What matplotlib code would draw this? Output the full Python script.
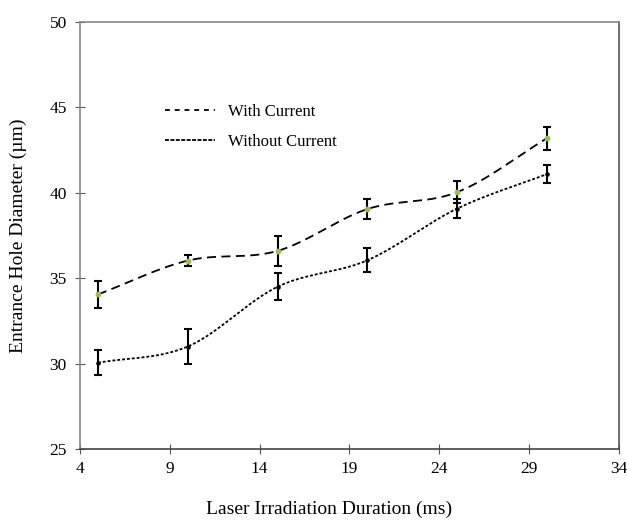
import numpy as np
import matplotlib.pyplot as plt
from matplotlib.lines import Line2D

plt.rcParams['font.family'] = ['Liberation Serif', 'DejaVu Serif']

duration = [5, 10, 15, 20, 25, 30]
with_current = [34.05, 36.03, 36.6, 39.05, 40.04, 43.2]
with_err = [0.8, 0.31, 0.9, 0.6, 0.66, 0.68]
without_current = [30.05, 31.0, 34.5, 36.05, 39.08, 41.1]
without_err = [0.72, 1.0, 0.8, 0.7, 0.55, 0.5]

x_ticks = [4, 9, 14, 19, 24, 29, 34]
y_ticks = [25, 30, 35, 40, 45, 50]


def smooth(xs, ys, steps=30):
    # excel-like smoothed line (catmull-rom through the points)
    xs = np.asarray(xs, float)
    ys = np.asarray(ys, float)
    px = np.concatenate([[2 * xs[0] - xs[1]], xs, [2 * xs[-1] - xs[-2]]])
    py = np.concatenate([[2 * ys[0] - ys[1]], ys, [2 * ys[-1] - ys[-2]]])
    outx, outy = [], []
    t = np.linspace(0, 1, steps)
    for i in range(1, len(px) - 2):
        for p, out in ((px, outx), (py, outy)):
            p0, p1, p2, p3 = p[i - 1], p[i], p[i + 1], p[i + 2]
            seg = 0.5 * ((2 * p1) + (-p0 + p2) * t
                         + (2 * p0 - 5 * p1 + 4 * p2 - p3) * t ** 2
                         + (-p0 + 3 * p1 - 3 * p2 + p3) * t ** 3)
            out.extend(seg)
    return np.array(outx), np.array(outy)


fig = plt.figure(figsize=(6.27, 5.2), dpi=100)
ax = fig.add_axes([80 / 627, 71 / 520, 539 / 627, 427 / 520])

sx, sy = smooth(duration, with_current)
ax.plot(sx, sy, color='black', lw=1.3, dashes=(5, 3))
sx, sy = smooth(duration, without_current)
ax.plot(sx, sy, color='black', lw=1.3, dashes=(1.6, 1.1))

ax.errorbar(duration, with_current, yerr=with_err, fmt='o', ms=3.2,
            mfc='#9bbb59', mec='#9bbb59', ecolor='black', elinewidth=1.5,
            capsize=3, capthick=1.5, zorder=3)
ax.errorbar(duration, without_current, yerr=without_err, fmt='o', ms=2.3,
            mfc='black', mec='black', ecolor='black', elinewidth=1.5,
            capsize=3, capthick=1.5, zorder=3)

ax.set_xlim(4, 34)
ax.set_ylim(25, 50)
ax.set_xticks(x_ticks)
ax.set_yticks(y_ticks)
ax.tick_params(direction='inout', length=7, width=0.8, labelsize=12.5,
               color='#555555')
ax.tick_params(axis='x', pad=5)
ax.tick_params(axis='y', pad=6)
for s in ax.spines.values():
    s.set_color('#888888')
    s.set_linewidth(1.2)
ax.spines['bottom'].set_color('#444444')
ax.spines['right'].set_color('#555555')

ax.set_xlabel('Laser Irradiation Duration (ms)', fontsize=14)
ax.xaxis.set_label_coords((329 - 80) / 539, (449 - 509) / 427)
ax.xaxis.label.set_va('center')
ax.set_ylabel('Entrance Hole Diameter (µm)', fontsize=14)
ax.yaxis.set_label_coords((18 - 80) / 539, 0.5)
ax.yaxis.label.set_va('center')

handles = [Line2D([], [], color='black', lw=1.3, dashes=(2.7, 2.7)),
           Line2D([], [], color='black', lw=1.3, dashes=(2.2, 0.8))]
fig.legend(handles, ['With Current', 'Without Current'], loc='upper left',
           bbox_to_anchor=(150 / 627, 1 - 89 / 520), frameon=False,
           fontsize=12, handlelength=3, handletextpad=0.8, labelspacing=0.85)

fig.savefig('out.png', dpi=100)
